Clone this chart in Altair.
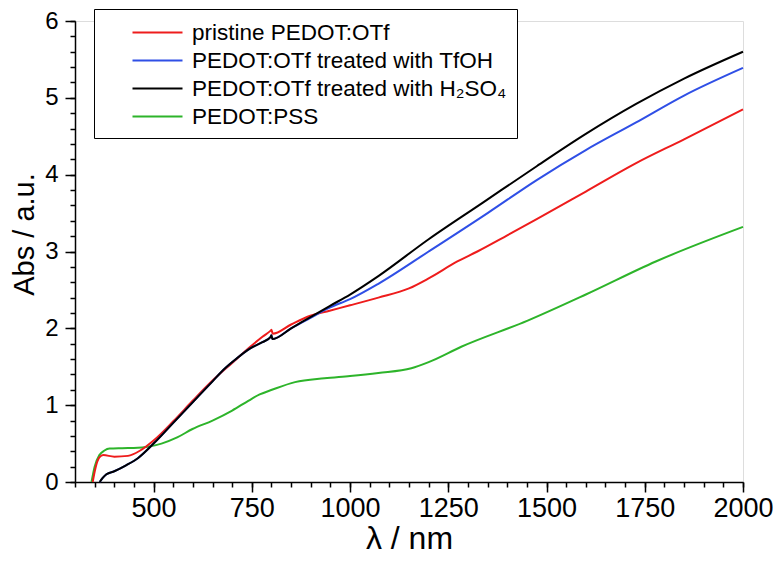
import altair as alt
import pandas as pd

SERIES = ["pristine PEDOT:OTf", "PEDOT:OTf treated with TfOH",
          "PEDOT:OTf treated with H\u2082SO\u2084", "PEDOT:PSS"]
COLORS = ["#ee1c1c", "#2f4fe6", "#000000", "#2db42a"]

red_x = [345, 352, 362, 372, 400, 435, 466, 500, 550, 600, 650, 700, 746, 777, 798, 800, 803,
         850, 897, 948, 1000, 1072, 1150, 1200, 1273, 1324, 1400, 1475, 1600, 1728, 1850, 2000]
red_y = [0.0, 0.18, 0.32, 0.35, 0.33, 0.34, 0.41, 0.54, 0.79, 1.06, 1.32, 1.55, 1.76, 1.89, 1.97, 1.98, 1.93,
         2.05, 2.16, 2.23, 2.30, 2.40, 2.52, 2.65, 2.87, 3.00, 3.21, 3.42, 3.78, 4.15, 4.46, 4.85]

blue_x = [363, 370, 380, 400, 431, 460, 500, 550, 600, 650, 682, 700, 746, 777, 798, 800, 802,
          850, 897, 948, 1000, 1072, 1200, 1350, 1475, 1600, 1728, 1850, 2000]
blue_y = [0.0, 0.05, 0.10, 0.14, 0.22, 0.31, 0.50, 0.77, 1.04, 1.31, 1.48, 1.56, 1.74, 1.82, 1.89, 1.91, 1.86,
          2.00, 2.13, 2.27, 2.38, 2.58, 3.00, 3.50, 3.93, 4.32, 4.68, 5.03, 5.39]

black_x = [363, 370, 380, 400, 431, 460, 500, 550, 600, 650, 682, 700, 746, 777, 798, 800, 802,
           850, 897, 948, 1000, 1072, 1200, 1339, 1475, 1600, 1728, 1850, 2000]
black_y = [0.0, 0.05, 0.10, 0.14, 0.22, 0.31, 0.50, 0.77, 1.04, 1.31, 1.48, 1.56, 1.74, 1.82, 1.89, 1.91, 1.86,
           2.00, 2.14, 2.29, 2.44, 2.68, 3.16, 3.64, 4.11, 4.53, 4.92, 5.25, 5.60]

green_x = [342, 350, 362, 375, 388, 420, 460, 485, 520, 560, 599, 650, 700, 742, 770, 801,
           860, 935, 1000, 1072, 1156, 1200, 1283, 1452, 1600, 1778, 2000]
green_y = [0.0, 0.20, 0.35, 0.41, 0.435, 0.44, 0.445, 0.46, 0.50, 0.58, 0.69, 0.80, 0.93, 1.06, 1.14, 1.20,
           1.30, 1.35, 1.38, 1.42, 1.48, 1.56, 1.76, 2.10, 2.44, 2.87, 3.32]

x_major = [500, 750, 1000, 1250, 1500, 1750, 2000]
x_minor = list(range(300, 2001, 50))
y_major = [0, 1, 2, 3, 4, 5, 6]
y_minor = [round(i * 0.2, 1) for i in range(31)]

rows = []
# draw order: green, red, blue, black (black on top)
for name, xs, ys, k in [(SERIES[3], green_x, green_y, 0), (SERIES[0], red_x, red_y, 1),
                        (SERIES[1], blue_x, blue_y, 2), (SERIES[2], black_x, black_y, 3)]:
    for a, b in zip(xs, ys):
        rows.append({"lam": a, "abs": b, "series": name, "k": k})
df = pd.DataFrame(rows)

FONT = "Liberation Sans"

xscale = alt.Scale(domain=[300, 2000], nice=False, zero=False)
yscale = alt.Scale(domain=[0, 6], nice=False)

lines = alt.Chart(df).mark_line(strokeWidth=2, interpolate="monotone").encode(
    x=alt.X("lam:Q", scale=xscale,
            axis=alt.Axis(values=x_major, title="\u03bb / nm", orient="bottom", format="d",
                          tickSize=10, tickWidth=1.5, domainWidth=1.5, domainColor="black",
                          tickColor="black", labelFontSize=27, labelColor="black", labelFont=FONT,
                          labelPadding=3, titleFont=FONT, titleFontSize=32, titleFontWeight="normal",
                          titleColor="black", titlePadding=2, grid=False, labelFlush=False)),
    y=alt.Y("abs:Q", scale=yscale,
            axis=alt.Axis(values=y_major, title="Abs / a.u.", orient="left", format="d",
                          tickSize=10, tickWidth=1.5, domainWidth=1.5, domainColor="black",
                          tickColor="black", labelFontSize=24, labelColor="black", labelFont=FONT,
                          labelPadding=7, titleFont=FONT, titleFontSize=29, titleFontWeight="normal",
                          titleColor="black", titleAngle=270, titleBaseline="bottom",
                          titleAlign="center", titleX=-36, titleY=213,
                          grid=False, labelFlush=False)),
    color=alt.Color("series:N", scale=alt.Scale(domain=SERIES, range=COLORS),
                    legend=alt.Legend(title=None, orient="none", legendX=19, legendY=-12,
                                      symbolType="M-2,0H2", symbolSize=625, symbolStrokeWidth=2,
                                      symbolOffset=40, labelOffset=21, labelFontSize=22.5,
                                      labelFont=FONT, labelColor="black", rowPadding=3,
                                      padding=10, strokeColor="black", fillColor="white",
                                      labelLimit=400)),
    detail="k:N",
    order="k:Q",
)

minor = alt.Chart(df).mark_line(opacity=0).encode(
    x=alt.X("lam:Q", scale=xscale,
            axis=alt.Axis(values=x_minor, orient="bottom", labels=False, domain=False, title=None,
                          tickSize=5, tickWidth=1.5, tickColor="black", grid=False)),
    y=alt.Y("abs:Q", scale=yscale,
            axis=alt.Axis(values=y_minor, orient="left", labels=False, domain=False, title=None,
                          tickSize=5, tickWidth=1.5, tickColor="black", grid=False)),
    detail="k:N",
)

chart = alt.layer(minor, lines).resolve_axis(x="independent", y="independent").properties(
    width=668, height=461,
    autosize=alt.AutoSizeParams(type="none"),
    padding={"left": 67, "top": 13, "right": 30, "bottom": 73},
).configure_view(stroke=None).configure(background="white")

chart.save("out.html", embed_options={"renderer": "svg", "actions": False})
